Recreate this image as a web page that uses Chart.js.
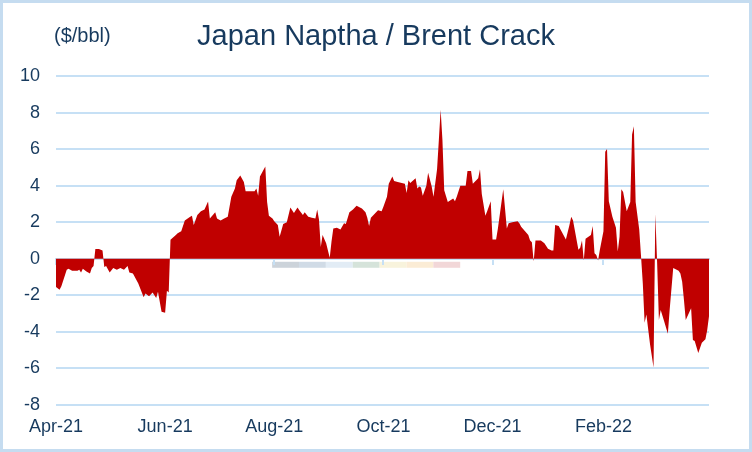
<!DOCTYPE html>
<html><head><meta charset="utf-8">
<script src="https://cdn.jsdelivr.net/npm/chart.js@4.4.1/dist/chart.umd.min.js"></script>
<style>html,body{margin:0;padding:0;background:#fff;overflow:hidden}canvas{display:block}</style>
</head><body>
<canvas id="c" width="752" height="452"></canvas>
<script>
const chartTitle = 'Japan Naptha / Brent Crack';
const unitLabel = '($/bbl)';
const startDate = '2021-04-01';
const endDate = '2022-04-01';
const tickDates = ['2021-04-01','2021-06-01','2021-08-01','2021-10-01','2021-12-01','2022-02-01'];
const tickLabels = ['Apr-21','Jun-21','Aug-21','Oct-21','Dec-21','Feb-22'];
const yTicks = [-8,-6,-4,-2,0,2,4,6,8,10];

// days since 1 Apr 2021
const days = [0,2,3,6,7,9,12,13,14,15,17,19,20,21,22,24,26,27,28,30,32,34,36,38,40,41,43,46,49,50,52,54,56,57,59,61,62,63,
64,67,68,70,72,75,76,77,79,81,83,85,86,89,90,92,94,96,98,100,101,103,105,106,111,112,113,114,117,118,119,121,122,124,125,127,129,
131,133,135,136,138,139,141,143,145,146,147,148,149,151,153,154,155,157,159,161,162,164,166,168,171,173,174,175,176,178,180,182,183,
185,186,188,189,191,195,196,197,198,201,202,203,204,205,207,208,210,211,213,214,215,216,217,219,222,223,224,226,229,230,232,233,236,237,238,
240,241,243,244,246,247,250,252,253,255,258,259,260,264,265,266,267,268,271,273,275,277,278,279,281,282,285,287,288,289,292,293,294,295,296,
299,300,301,302,303,304,306,307,308,309,311,313,314,315,316,317,319,321,322,323,324,326,327,328,329,330,332,334,335,336,337,338,340,342,343,
345,348,349,350,351,352,355,356,357,359,361,363,364,365];
const crack = [-1.55,-1.7,-1.5,-0.6,-0.55,-0.65,-0.65,-0.6,-0.75,-0.55,-0.7,-0.8,-0.5,-0.4,0.53,0.53,0.45,-0.45,-0.4,-0.75,-0.5,-0.6,-0.5,-0.6,-0.4,-0.75,-0.8,-1.35,-2.1,-1.9,-2.05,-1.85,-2.15,-1.8,-2.9,-2.95,-1.75,-1.85,
1.04,1.3,1.4,1.5,2.1,2.3,2.35,1.85,2.4,2.6,2.7,3.13,2.2,2.55,2.2,2.1,2.2,2.3,3.4,3.85,4.3,4.55,4.2,3.7,3.7,3.85,3.45,4.5,5.05,3.1,2.35,2.2,2.05,1.85,1.2,1.9,2.0,
2.8,2.5,2.8,2.65,2.4,2.55,2.3,2.25,2.2,2.7,2.15,0.65,1.3,0.85,0.05,0.95,1.65,1.7,1.6,1.95,1.9,2.55,2.7,2.9,2.75,2.55,2.25,1.8,2.25,2.45,2.65,2.6,2.85,
3.4,4.1,4.5,4.25,4.2,4.1,3.6,4.3,4.15,4.4,3.85,3.95,3.9,3.45,4.0,4.7,3.95,3.4,4.9,6.5,8.15,6.5,3.75,3.1,3.3,3.15,3.4,4.0,4.0,4.8,4.8,4.1,4.4,4.9,3.55,
2.35,2.6,3.15,1.05,1.05,1.65,3.8,1.65,1.95,2.0,2.05,1.95,1.75,1.3,1.0,0.9,-0.15,1.0,1.0,0.85,0.55,0.45,0.45,1.85,1.8,1.6,1.05,1.85,2.3,2.1,0.5,0.6,1.0,-0.1,1.1,
1.3,1.8,0.3,0.2,-0.1,0.5,1.5,5.85,6.0,3.15,2.3,1.7,0.4,1.2,3.8,3.65,2.6,3.1,6.8,7.25,3.1,1.6,0.15,-1.35,-3.5,-3.05,-4.65,-5.95,2.45,-0.2,-3.35,-2.8,-3.45,-4.1,-2.8,
-0.5,-0.65,-0.8,-1.25,-2.25,-3.35,-2.7,-4.45,-4.5,-5.15,-4.6,-4.4,-3.9,-3.15];

const FONT = '"Liberation Sans", Arial, sans-serif';
const TEXT = '#173a5e';
const GRID = '#c6e0f5';
const toDay = d => Math.round((Date.parse(d + 'T00:00:00Z') - Date.parse(startDate + 'T00:00:00Z')) / 864e5);
const tickDays = tickDates.map(toDay);
const xMax = toDay(endDate);
const points = days.map((d, i) => ({x: d, y: crack[i]}));
const setTicks = s => { s.ticks = tickDays.map(v => ({value: v})); };

const wmColors = ['#ccd3da','#d0dbe6','#e2ecf5','#d5e3da','#f8f3dc','#fbecd5','#f2d7d8'];

const decor = {
  id: 'decor',
  beforeDraw(chart) {
    const c = chart.ctx, a = chart.chartArea, y0 = chart.scales.y.getPixelForValue(0);
    c.save();
    c.fillStyle = '#fff'; c.fillRect(0, 0, chart.width, chart.height);
    const x1 = a.left + 0.331 * (a.right - a.left), x2 = a.left + 0.619 * (a.right - a.left);
    const w = (x2 - x1) / wmColors.length;
    wmColors.forEach((col, i) => { c.fillStyle = col; c.fillRect(x1 + i * w, y0 + 3, w, 6); });
    c.restore();
  },
  afterDraw(chart) {
    const c = chart.ctx;
    c.save();
    c.fillStyle = TEXT;
    c.textBaseline = 'alphabetic';
    c.textAlign = 'center';
    c.font = '29px ' + FONT;
    c.fillText(chartTitle, chart.width / 2, 45);
    c.textAlign = 'left';
    c.font = '20px ' + FONT;
    c.fillText(unitLabel, 54, 42);
    c.strokeStyle = '#c5dcf0';
    c.lineWidth = 3;
    c.strokeRect(1.5, 1.5, chart.width - 3, chart.height - 3);
    c.restore();
  }
};

new Chart(document.getElementById('c'), {
  type: 'line',
  data: {datasets: [{data: points, fill: 'origin', backgroundColor: '#c00000', borderWidth: 0, borderColor: '#c00000', pointRadius: 0, tension: 0}]},
  options: {
    responsive: false, animation: false,
    layout: {padding: {top: 76, right: 43, left: 0, bottom: 0}},
    plugins: {legend: {display: false}, tooltip: {enabled: false}, title: {display: false}},
    scales: {
      x: {
        type: 'linear', min: 0, max: xMax, position: 'bottom',
        afterBuildTicks: setTicks,
        afterFit: s => { s.height = 47; },
        grid: {display: false, drawTicks: false}, border: {display: false},
        ticks: {callback: (v, i) => tickLabels[i], color: TEXT, font: {family: FONT, size: 18}, padding: 11, maxRotation: 0, autoSkip: false}
      },
      xz: {
        axis: 'x', type: 'linear', min: 0, max: xMax, position: {y: 0}, z: 1,
        afterBuildTicks: setTicks,
        grid: {display: true, drawOnChartArea: false, drawTicks: true, tickLength: 5, color: GRID, lineWidth: 2},
        border: {display: true, color: GRID, width: 2},
        ticks: {display: false}
      },
      y: {
        min: -8, max: 10,
        afterBuildTicks: s => { s.ticks = yTicks.map(v => ({value: v})); },
        afterFit: s => { s.width = 56; },
        grid: {color: GRID, lineWidth: 2, drawTicks: false}, border: {display: false},
        ticks: {color: TEXT, font: {family: FONT, size: 18}, padding: 16}
      }
    }
  },
  plugins: [decor]
});
</script>
</body></html>
